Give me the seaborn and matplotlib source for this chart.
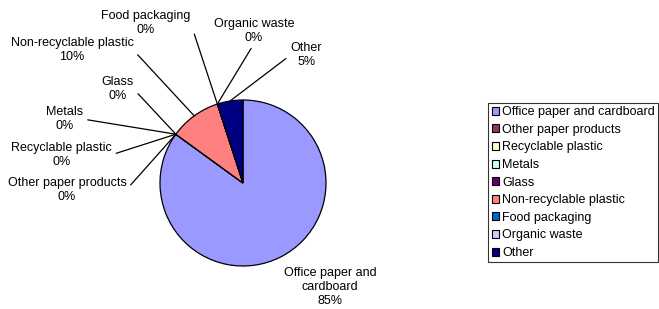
import numpy as np
import matplotlib
matplotlib.use('Agg')
import matplotlib.pyplot as plt
import seaborn as sns

# data
categories = ['Office paper and cardboard', 'Other paper products', 'Recyclable plastic',
              'Metals', 'Glass', 'Non-recyclable plastic', 'Food packaging',
              'Organic waste', 'Other']
shares = [85, 0, 0, 0, 0, 10, 0, 0, 5]
slice_labels = ['Office paper and\ncardboard', 'Other paper products', 'Recyclable plastic',
                'Metals', 'Glass', 'Non-recyclable plastic', 'Food packaging',
                'Organic waste', 'Other']
colors = ['#9999FF', '#993366', '#FFFFCC', '#CCFFFF', '#660066',
          '#FF8080', '#0066CC', '#CCCCFF', '#000080']

# label placement (pie radius = 1, centre = 0,0) and where the leader line attaches
label_xy = [(1.05, -1.25), (-2.12, -0.08), (-2.19, 0.34), (-2.15, 0.77), (-1.51, 1.13),
            (-2.06, 1.60), (-1.17, 1.93), (0.13, 1.83), (0.76, 1.54)]
leader_rel = [None, (1, 0.5), (1, 0.5), (1, 0.5), (1, 0.5),
              (1, 0.5), (1, 0.5), (0.5, 0), (0, 0.5)]

sns.set_theme(style='white')
plt.rcParams['font.family'] = ['Liberation Sans', 'DejaVu Sans']
plt.rcParams['text.color'] = 'black'

W, H = 659, 309
cx, cy, r = 243, 183, 83
fs = 9

fig = plt.figure(figsize=(W / 100, H / 100), dpi=100)
ax = fig.add_axes([0, 0, 1, 1])

wedges, _ = ax.pie(shares, colors=colors, startangle=90, counterclock=False,
                   wedgeprops={'edgecolor': 'black', 'linewidth': 0.9})

for w, lab, v, pos, rel in zip(wedges, slice_labels, shares, label_xy, leader_rel):
    mid = np.deg2rad((w.theta1 + w.theta2) / 2)
    edge = (np.cos(mid), np.sin(mid))
    txt = f'{lab}\n{v}%'
    if rel is None:
        ax.text(pos[0], pos[1], txt, ha='center', va='center', fontsize=fs)
    else:
        ax.annotate(txt, xy=edge, xytext=pos, ha='center', va='center', fontsize=fs,
                    arrowprops=dict(arrowstyle='-', color='black', lw=0.9,
                                    shrinkA=1, shrinkB=0, relpos=rel))

ax.set_xlim(-cx / r, (W - cx) / r)
ax.set_ylim(-(H - cy) / r, cy / r)
ax.axis('off')

leg = fig.legend(wedges, categories, loc='upper right',
                 bbox_to_anchor=(658 / W, 1 - 103 / H), fontsize=fs,
                 frameon=True, fancybox=False, shadow=False,
                 handlelength=0.6, handleheight=0.6, handletextpad=0.25,
                 labelspacing=0.45, borderpad=0.25, borderaxespad=0)
leg.get_frame().set_edgecolor('black')
leg.get_frame().set_linewidth(0.8)
for h in leg.legend_handles:
    h.set_edgecolor('black')
    h.set_linewidth(0.8)

fig.savefig('out.png', dpi=100)
